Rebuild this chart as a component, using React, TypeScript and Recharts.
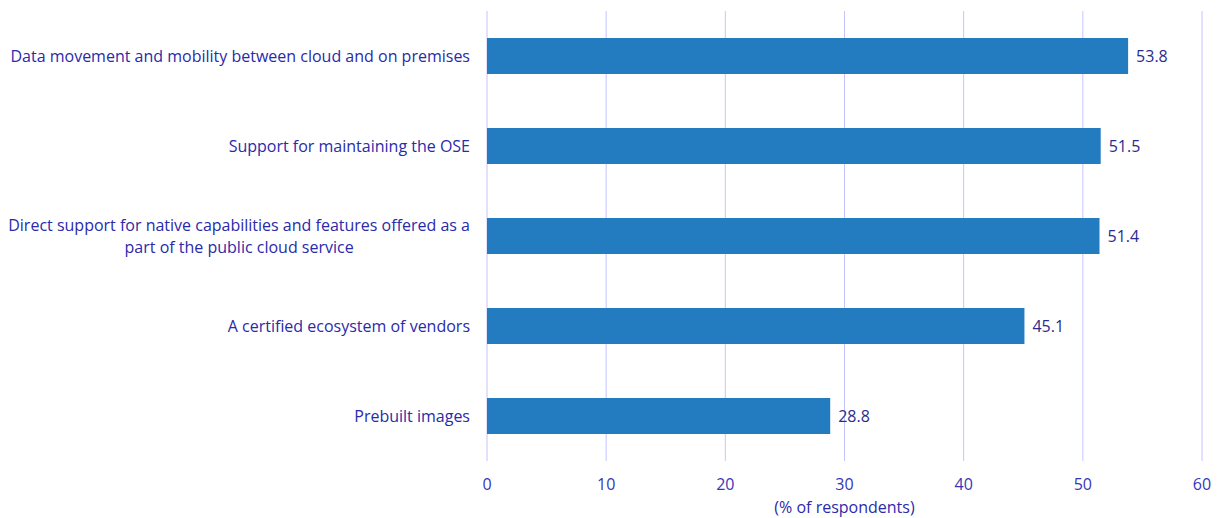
import React from "react";
import { BarChart, Bar, XAxis, YAxis, CartesianGrid, LabelList, Label } from "recharts";

const categories: string[][] = [
  ["Data movement and mobility between cloud and on premises"],
  ["Support for maintaining the OSE"],
  ["Direct support for native capabilities and features offered as a", "part of the public cloud service"],
  ["A certified ecosystem of vendors"],
  ["Prebuilt images"],
];
const values: number[] = [53.8, 51.5, 51.4, 45.1, 28.8];
const xTicks: number[] = [0, 10, 20, 30, 40, 50, 60];
const axisTitle = "(% of respondents)";

const data = categories.map((c, i) => ({ name: c.join("\n"), value: values[i] }));

const FONT = "'Open Sans', sans-serif";
const FS = 16;
const LABEL_COLOR = "#2a2aaa";

let ctx: CanvasRenderingContext2D | null = null;
function measure(t: string): number {
  if (!ctx) {
    const c = document.createElement("canvas");
    ctx = c.getContext("2d");
  }
  if (!ctx) return t.length * 8.5;
  ctx.font = `${FS}px ${FONT}`;
  return ctx.measureText(t).width;
}

const YTick = (props: any) => {
  const { x, y, payload } = props;
  const lines: string[] = String(payload.value).split("\n");
  if (lines.length === 1) {
    return (
      <text x={x} y={y} dy="0.35em" textAnchor="end" fill={LABEL_COLOR} fontSize={FS} fontFamily={FONT}>
        {lines[0]}
      </text>
    );
  }
  const w = Math.max(...lines.map(measure));
  const cx = x - w / 2;
  const lh = 22;
  const start = -((lines.length - 1) * lh) / 2;
  return (
    <g>
      {lines.map((l, i) => (
        <text key={i} x={cx} y={y + start + i * lh} dy="0.35em" textAnchor="middle" fill={LABEL_COLOR} fontSize={FS} fontFamily={FONT}>
          {l}
        </text>
      ))}
    </g>
  );
};

export default function App() {
  return (
    <div style={{ position: "absolute", left: 0, top: 0 }}>
      <BarChart
        width={1217}
        height={518}
        data={data}
        layout="vertical"
        margin={{ top: 11, right: 15, bottom: 0, left: 0 }}
      >
        <CartesianGrid horizontal={false} stroke="#c4c4ff" strokeWidth={1} />
        <XAxis
          type="number"
          domain={[0, 60]}
          ticks={xTicks}
          axisLine={false}
          tickLine={false}
          tickSize={0}
          tickMargin={18}
          height={57}
          tick={{ fill: "#3636b8", fontSize: FS, fontFamily: FONT }}
        >
          <Label value={axisTitle} position="insideBottom" offset={5} fill={LABEL_COLOR} fontSize={FS} fontFamily={FONT} />
        </XAxis>
        <YAxis
          type="category"
          dataKey="name"
          width={487}
          axisLine={false}
          tickLine={false}
          tickSize={0}
          tickMargin={17}
          tick={<YTick />}
          interval={0}
        />
        <Bar dataKey="value" fill="#237cc0" barSize={36} isAnimationActive={false}>
          <LabelList dataKey="value" position="right" offset={8} fill="#2b2b8f" fontSize={FS} fontFamily={FONT} />
        </Bar>
      </BarChart>
    </div>
  );
}
